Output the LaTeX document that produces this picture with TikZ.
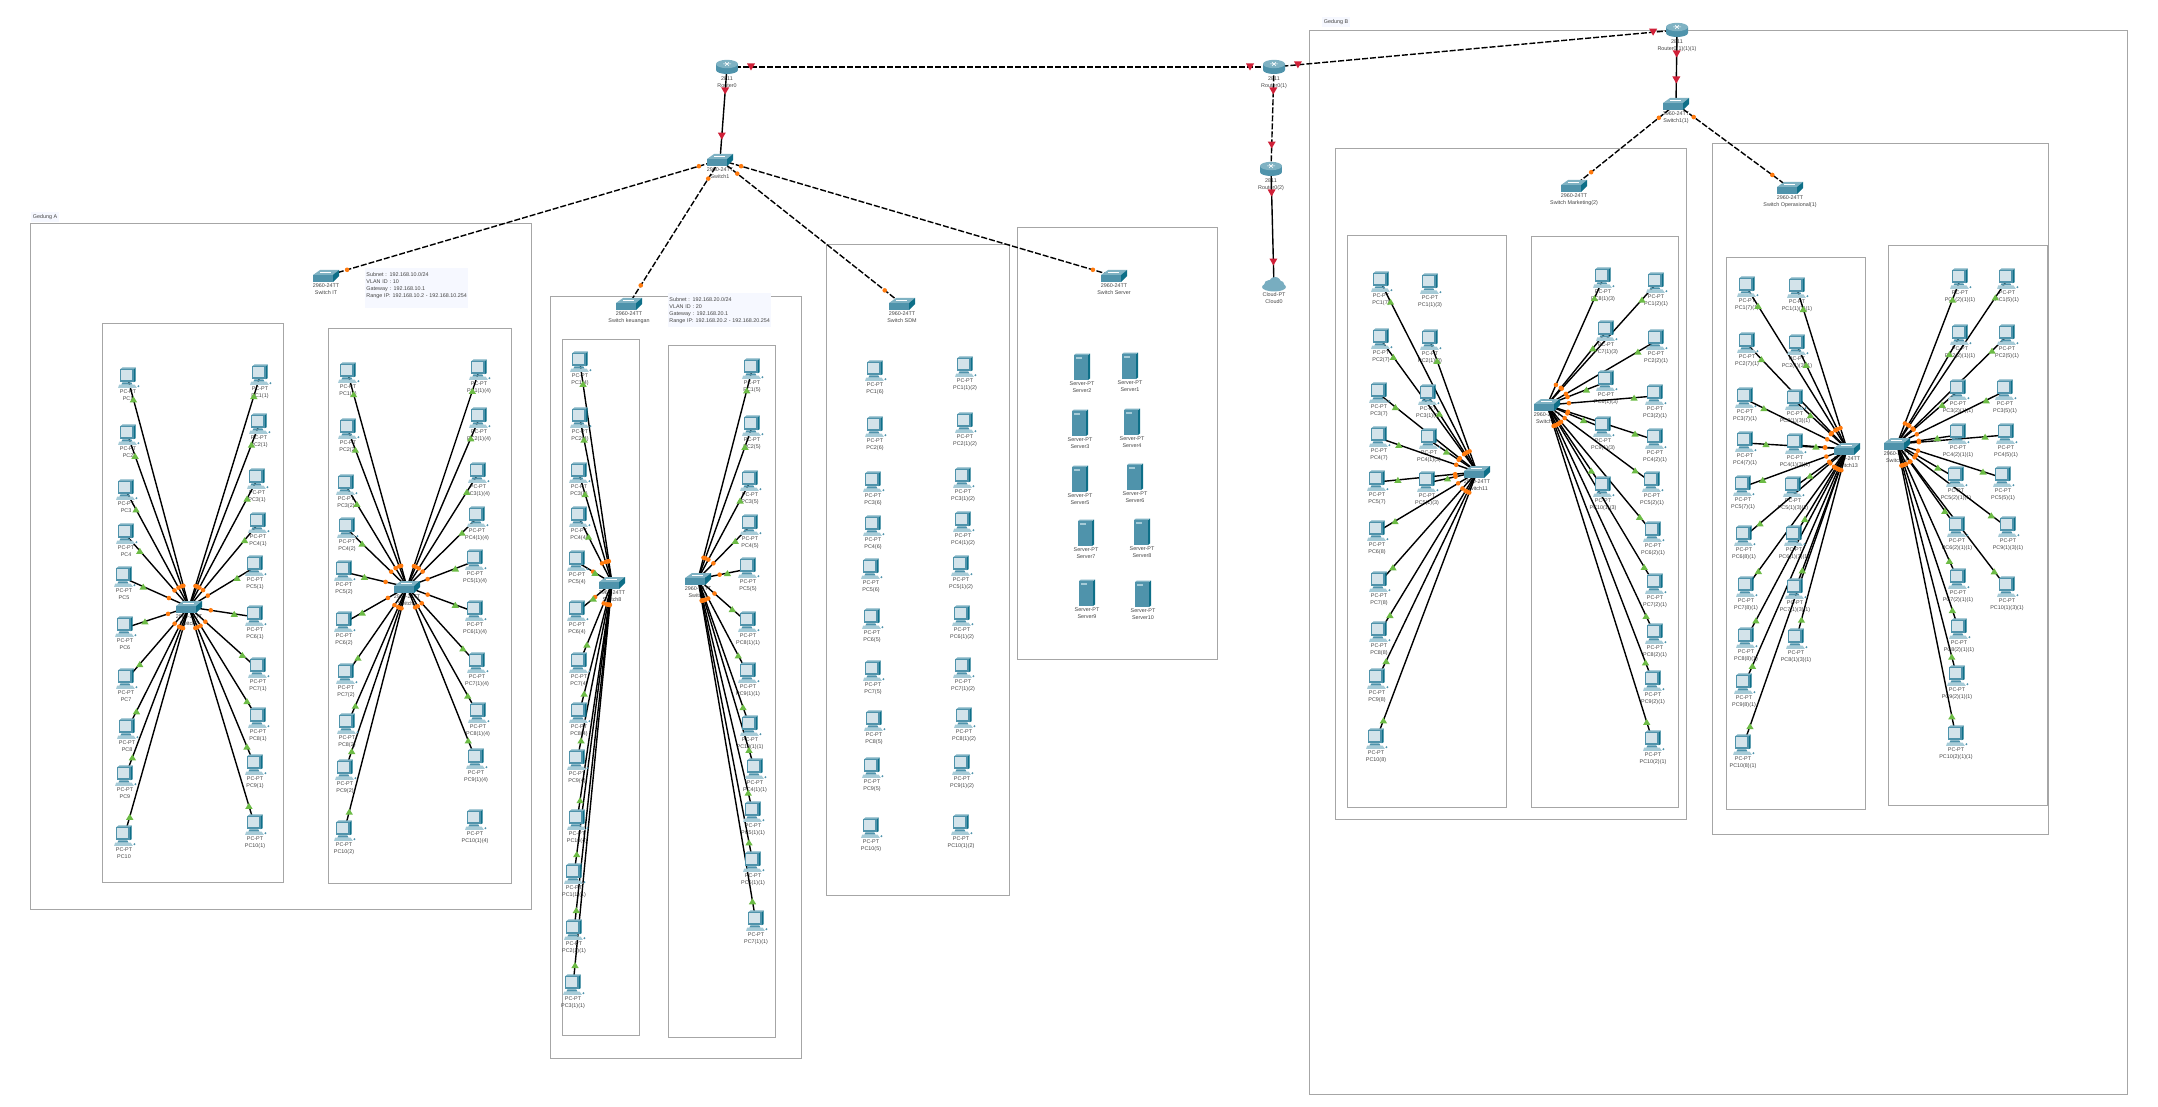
\documentclass[tikz,border=0pt]{standalone}
\usepackage{fontspec}
\setmainfont{Liberation Sans}
\usetikzlibrary{calc}
\usetikzlibrary{positioning}

\definecolor{tealmid}{HTML}{4F93AB}
\definecolor{tealdark}{HTML}{0E6F88}
\definecolor{teallight}{HTML}{7FB2C3}
\definecolor{tealpale}{HTML}{A6CBD7}
\definecolor{screenblue}{HTML}{D3E3EA}
\definecolor{framegrey}{HTML}{A6A6A6}
\definecolor{notefill}{HTML}{F6F8FF}
\definecolor{labelgrey}{HTML}{454545}
\definecolor{dotorange}{HTML}{FF7A0E}
\definecolor{markgreen}{HTML}{6CBB45}
\definecolor{markred}{HTML}{D02038}

\pgfdeclarelayer{frames}
\pgfdeclarelayer{labels}
\pgfdeclarelayer{wires}
\pgfsetlayers{frames,labels,wires,main}

\tikzset{
  devnode/.style={inner sep=0pt,minimum size=0pt},
  devlabel/.style={inner sep=0pt,align=center,text=labelgrey,font=\fontsize{2.7}{3.5}\selectfont},
  notebox/.style={anchor=north west,fill=notefill,inner xsep=0.5pt,inner ysep=2pt,align=left,text width=50.5pt,text=labelgrey,font=\fontsize{2.7}{3.5}\selectfont},
  titlebox/.style={fill=notefill,inner sep=1pt,text=labelgrey,font=\fontsize{2.7}{3.5}\selectfont},
  framebox/.style={draw=framegrey,line width=0.42pt},
  wire/.style={draw=black,line width=0.7pt},
  dashwire/.style={draw=black,line width=0.7pt,dash pattern=on 3pt off 1pt},
  pcicon/.pic={
    \fill[tealdark] (5,-9) -- (7,-10.5) -- (7,2) -- (5,3) -- cycle;
    \fill[teallight] (-7,-9) -- (-5,-10.5) -- (7,-10.5) -- (5,-9) -- cycle;
    \fill[tealmid] (-7,-9) rectangle (5,3);
    \fill[screenblue] (-6,-8) rectangle (4,1);
    \fill[tealmid] (-5,3) -- (3,3) -- (4,5) -- (-6,5) -- cycle;
    \fill[tealpale] (-8,5) -- (6,5) -- (8,8) -- (-9,8) -- cycle;
    \fill[tealmid] (9.5,6.5) circle (0.5pt);
  },
  switchicon/.pic={
    \fill[teallight] (-13,-1) -- (-6,-6) -- (13,-6) -- (7,-1) -- cycle;
    \fill[tealmid] (-13,-1) rectangle (7,6);
    \fill[tealdark] (7,-1) -- (13,-6) -- (13,0) -- (7,6) -- cycle;
    \draw[white,line width=0.2pt] (-6,-3.5) -- (5,-3.5);
  },
  routericon/.pic={
    \path[left color=tealmid,middle color=screenblue,right color=tealmid] (-11,-3) -- (-11,3) arc[start angle=180,end angle=0,x radius=11,y radius=4] -- (11,-3) -- cycle;
    \fill[teallight] (0,-3) ellipse[x radius=11,y radius=4.2];
    \draw[white,line width=0.25pt] (-4,-3) -- (4,-3) (-2,-5) -- (2,-1) (2,-5) -- (-2,-1);
  },
  cloudicon/.pic={
    \fill[teallight!85!tealmid] (0,1) ellipse[x radius=12,y radius=4.5];
    \fill[teallight!85!tealmid] (-5,-1) circle (2.5pt) (1,-3) circle (3pt) (6,-1) circle (2.2pt);
  },
  servericon/.pic={
    \fill[tealdark] (6,-12) -- (8,-13.5) -- (8,11.5) -- (6,13) -- cycle;
    \fill[teallight] (-8,-12) -- (-6,-13.5) -- (8,-13.5) -- (6,-12) -- cycle;
    \fill[tealmid] (-8,-12) rectangle (6,13);
    \fill[tealpale] (-6.5,-10) rectangle (-0.5,-8);
  },
}

\newcommand{\pcdev}[4]{%
  \node[devnode] (#1) at (#2,#3) {};
  \pic[scale=1.1] at (#1) {pcicon};
  \begin{pgfonlayer}{labels}\node[devlabel,below=5.2pt of #1.center] (#1lab) {PC-PT\\#4};\end{pgfonlayer}
}
\newcommand{\swdev}[4]{%
  \node[devnode] (#1) at (#2,#3) {};
  \pic at (#1) {switchicon};
  \begin{pgfonlayer}{labels}\node[devlabel,below=3.7pt of #1.center] (#1lab) {2960-24TT\\#4};\end{pgfonlayer}
}
\newcommand{\rtdev}[4]{%
  \node[devnode] (#1) at (#2,#3) {};
  \pic at (#1) {routericon};
  \begin{pgfonlayer}{labels}\node[devlabel,below=4.5pt of #1.center] (#1lab) {2811\\#4};\end{pgfonlayer}
}
\newcommand{\srvdev}[4]{%
  \node[devnode] (#1) at (#2,#3) {};
  \pic at (#1) {servericon};
  \node[devlabel,below=7.3pt of #1.center] (#1lab) {Server-PT\\#4};
}
\newcommand{\orangemark}[2]{\fill[dotorange] ($(#1)!11pt!(#2)$) circle (1.15pt);}
\newcommand{\greenmark}[2]{\fill[markgreen] ($(#1)!10.5pt!(#2)$) ++(-3.7,3) -- ++(7.4,0) -- ++(-3.7,-6) -- cycle;}
\newcommand{\redmark}[2]{\fill[markred] ($(#1)!12pt!(#2)$) ++(-4,-3.5) -- ++(8,0) -- ++(-4,7) -- cycle;}
\newcommand{\lan}[2]{%
  \begin{pgfonlayer}{wires}\draw[wire] (#1) -- (#2);\end{pgfonlayer}
  \orangemark{#1}{#2}\greenmark{#2}{#1}
}
\newcommand{\trunk}[2]{%
  \begin{pgfonlayer}{wires}\draw[dashwire] (#1) -- (#2);\end{pgfonlayer}
  \orangemark{#1}{#2}\orangemark{#2}{#1}
}
\newcommand{\uplink}[3]{%
  \begin{pgfonlayer}{wires}\draw[#3] (#1) -- (#2);\end{pgfonlayer}
  \redmark{#1}{#2}\redmark{#2}{#1}
}

\begin{document}
\begin{tikzpicture}[x=0.5pt,y=-0.5pt]
  \useasboundingbox (0,0) rectangle (2158,1107);

  % frames
  \begin{pgfonlayer}{frames}
    \draw[framebox] (30,223) rectangle (531,909);
    \draw[framebox] (102,323) rectangle (283,882);
    \draw[framebox] (328,328) rectangle (511,883);
    \draw[framebox] (550,296) rectangle (801,1058);
    \draw[framebox] (562,339) rectangle (639,1035);
    \draw[framebox] (668,345) rectangle (775,1037);
    \draw[framebox] (826,244) rectangle (1009,895);
    \draw[framebox] (1017,227) rectangle (1217,659);
    \draw[framebox] (1309,30) rectangle (2127,1094);
    \draw[framebox] (1335,148) rectangle (1686,819);
    \draw[framebox] (1347,235) rectangle (1506,807);
    \draw[framebox] (1531,236) rectangle (1678,807);
    \draw[framebox] (1712,143) rectangle (2048,834);
    \draw[framebox] (1726,257) rectangle (1865,809);
    \draw[framebox] (1888,245) rectangle (2047,805);
  \end{pgfonlayer}

  \node[titlebox] (gedunga) at (45,217) {Gedung A};
  \node[titlebox] (gedungb) at (1336,22) {Gedung B};
  \node[notebox] (noteit) at (365,268) {Subnet : 192.168.10.0/24\\VLAN ID : 10\\Gateway : 192.168.10.1\\Range IP: 192.168.10.2 - 192.168.10.254\\~};
  \node[notebox] (noteku) at (668,293) {Subnet : 192.168.20.0/24\\VLAN ID : 20\\Gateway : 192.168.20.1\\Range IP: 192.168.20.2 - 192.168.20.254};

  % core
  \rtdev{rtA}{727}{67}{Router0}
  \rtdev{rtB}{1274}{67}{Router0(1)}
  \rtdev{rtC}{1271}{169}{Router0(2)}
  \rtdev{rtD}{1677}{30}{Router0(1)(1)(1)}
  \node[devnode] (cloud) at (1274,286) {};
  \pic at (cloud) {cloudicon};
  \node[devlabel,below=3pt of cloud.center] (cloudlab) {Cloud-PT\\Cloud0};
  \swdev{swcore}{720}{160}{Switch1}
  \swdev{swcoreb}{1676}{104}{Switch1(1)}
  \swdev{swit}{326}{276}{Switch IT}
  \swdev{swku}{629}{304}{Switch keuangan}
  \swdev{swsdm}{902}{304}{Switch SDM}
  \swdev{swsrv}{1114}{276}{Switch Server}
  \swdev{swmk}{1574}{186}{Switch Marketing(2)}
  \swdev{swop}{1790}{188}{Switch Operasional(1)}
  \swdev{swa}{189}{607}{Switch2}
  \swdev{swb}{407}{587}{Switch3}
  \swdev{swc}{612}{583}{Switch8}
  \swdev{swd}{698}{579}{Switch9}
  \swdev{swe}{1477}{472}{Switch11}
  \swdev{swf}{1547}{405}{Switch12}
  \swdev{swg}{1847}{449}{Switch13}
  \swdev{swh}{1897}{444}{Switch14}

  \uplink{rtA}{rtB}{dashwire}
  \uplink{rtB}{rtD}{dashwire}
  \uplink{rtB}{rtC}{dashwire}
  \uplink{rtA}{swcore}{wire}
  \uplink{rtC}{cloud}{wire}
  \uplink{rtD}{swcoreb}{wire}
  \trunk{swcore}{swit}
  \trunk{swcore}{swku}
  \trunk{swcore}{swsdm}
  \trunk{swcore}{swsrv}
  \trunk{swcoreb}{swmk}
  \trunk{swcoreb}{swop}

  % Gedung A, IT left
  \pcdev{aa1}{128}{379}{PC1}
  \pcdev{aa2}{128}{436}{PC2}
  \pcdev{aa3}{126}{491}{PC3}
  \pcdev{aa4}{126}{535}{PC4}
  \pcdev{aa5}{124}{578}{PC5}
  \pcdev{aa6}{125}{628}{PC6}
  \pcdev{aa7}{126}{680}{PC7}
  \pcdev{aa8}{127}{730}{PC8}
  \pcdev{aa9}{125}{777}{PC9}
  \pcdev{aa10}{124}{837}{PC10}
  \pcdev{ab1}{260}{376}{PC1(1)}
  \pcdev{ab2}{259}{425}{PC2(1)}
  \pcdev{ab3}{257}{480}{PC3(1)}
  \pcdev{ab4}{258}{524}{PC4(1)}
  \pcdev{ab5}{255}{567}{PC5(1)}
  \pcdev{ab6}{255}{617}{PC6(1)}
  \pcdev{ab7}{258}{669}{PC7(1)}
  \pcdev{ab8}{258}{719}{PC8(1)}
  \pcdev{ab9}{255}{766}{PC9(1)}
  \pcdev{ab10}{255}{826}{PC10(1)}
  \lan{swa}{aa1}
  \lan{swa}{aa2}
  \lan{swa}{aa3}
  \lan{swa}{aa4}
  \lan{swa}{aa5}
  \lan{swa}{aa6}
  \lan{swa}{aa7}
  \lan{swa}{aa8}
  \lan{swa}{aa9}
  \lan{swa}{aa10}
  \lan{swa}{ab1}
  \lan{swa}{ab2}
  \lan{swa}{ab3}
  \lan{swa}{ab4}
  \lan{swa}{ab5}
  \lan{swa}{ab6}
  \lan{swa}{ab7}
  \lan{swa}{ab8}
  \lan{swa}{ab9}
  \lan{swa}{ab10}

  % Gedung A, IT right
  \pcdev{ba1}{348}{374}{PC1(2)}
  \pcdev{ba2}{348}{430}{PC2(2)}
  \pcdev{ba3}{346}{486}{PC3(2)}
  \pcdev{ba4}{347}{529}{PC4(2)}
  \pcdev{ba5}{344}{572}{PC5(2)}
  \pcdev{ba6}{344}{623}{PC6(2)}
  \pcdev{ba7}{346}{675}{PC7(2)}
  \pcdev{ba8}{347}{725}{PC8(2)}
  \pcdev{ba9}{345}{771}{PC9(2)}
  \pcdev{ba10}{344}{832}{PC10(2)}
  \pcdev{bb1}{479}{371}{PC1(1)(4)}
  \pcdev{bb2}{479}{419}{PC2(1)(4)}
  \pcdev{bb3}{478}{474}{PC3(1)(4)}
  \pcdev{bb4}{477}{518}{PC4(1)(4)}
  \pcdev{bb5}{475}{561}{PC5(1)(4)}
  \pcdev{bb6}{475}{612}{PC6(1)(4)}
  \pcdev{bb7}{477}{664}{PC7(1)(4)}
  \pcdev{bb8}{478}{714}{PC8(1)(4)}
  \pcdev{bb9}{476}{760}{PC9(1)(4)}
  \pcdev{bb10}{475}{821}{PC10(1)(4)}
  \lan{swb}{ba1}
  \lan{swb}{ba2}
  \lan{swb}{ba3}
  \lan{swb}{ba4}
  \lan{swb}{ba5}
  \lan{swb}{ba6}
  \lan{swb}{ba7}
  \lan{swb}{ba8}
  \lan{swb}{ba9}
  \lan{swb}{ba10}
  \lan{swb}{bb1}
  \lan{swb}{bb2}
  \lan{swb}{bb3}
  \lan{swb}{bb4}
  \lan{swb}{bb5}
  \lan{swb}{bb6}
  \lan{swb}{bb7}
  \lan{swb}{bb8}
  \lan{swb}{bb9}

  % keuangan
  \pcdev{ca1}{580}{363}{PC1(4)}
  \pcdev{ca2}{580}{419}{PC2(4)}
  \pcdev{ca3}{579}{474}{PC3(4)}
  \pcdev{ca4}{579}{518}{PC4(4)}
  \pcdev{ca5}{577}{562}{PC5(4)}
  \pcdev{ca6}{577}{612}{PC6(4)}
  \pcdev{ca7}{579}{664}{PC7(4)}
  \pcdev{ca8}{579}{714}{PC8(4)}
  \pcdev{ca9}{577}{761}{PC9(4)}
  \pcdev{ca10}{577}{821}{PC10(4)}
  \pcdev{ca11}{574}{875}{PC1(1)(1)}
  \pcdev{ca12}{574}{931}{PC2(1)(1)}
  \pcdev{ca13}{573}{986}{PC3(1)(1)}
  \lan{swc}{ca1}
  \lan{swc}{ca2}
  \lan{swc}{ca3}
  \lan{swc}{ca4}
  \lan{swc}{ca5}
  \lan{swc}{ca6}
  \lan{swc}{ca7}
  \lan{swc}{ca8}
  \lan{swc}{ca9}
  \lan{swc}{ca10}
  \lan{swc}{ca11}
  \lan{swc}{ca12}
  \lan{swc}{ca13}
  \pcdev{da1}{752}{370}{PC1(5)}
  \pcdev{da2}{752}{427}{PC2(5)}
  \pcdev{da3}{750}{482}{PC3(5)}
  \pcdev{da4}{750}{526}{PC4(5)}
  \pcdev{da5}{748}{569}{PC5(5)}
  \pcdev{da6}{748}{623}{PC8(1)(1)}
  \pcdev{da7}{748}{674}{PC9(1)(1)}
  \pcdev{da8}{750}{727}{PC10(1)(1)}
  \pcdev{da9}{755}{770}{PC4(1)(1)}
  \pcdev{da10}{753}{813}{PC5(1)(1)}
  \pcdev{da11}{753}{863}{PC6(1)(1)}
  \pcdev{da12}{756}{922}{PC7(1)(1)}
  \lan{swd}{da1}
  \lan{swd}{da2}
  \lan{swd}{da3}
  \lan{swd}{da4}
  \lan{swd}{da5}
  \lan{swd}{da6}
  \lan{swd}{da7}
  \lan{swd}{da8}
  \lan{swd}{da9}
  \lan{swd}{da10}
  \lan{swd}{da11}
  \lan{swd}{da12}

  % SDM
  \pcdev{ea1}{875}{372}{PC1(6)}
  \pcdev{ea2}{875}{428}{PC2(6)}
  \pcdev{ea3}{873}{483}{PC3(6)}
  \pcdev{ea4}{873}{527}{PC4(6)}
  \pcdev{ea5}{871}{570}{PC5(6)}
  \pcdev{ea6}{872}{620}{PC6(5)}
  \pcdev{ea7}{873}{672}{PC7(5)}
  \pcdev{ea8}{874}{722}{PC8(5)}
  \pcdev{ea9}{872}{769}{PC9(5)}
  \pcdev{ea10}{871}{829}{PC10(5)}
  \pcdev{eb1}{965}{368}{PC1(1)(2)}
  \pcdev{eb2}{965}{424}{PC2(1)(2)}
  \pcdev{eb3}{963}{479}{PC3(1)(2)}
  \pcdev{eb4}{963}{523}{PC4(1)(2)}
  \pcdev{eb5}{961}{567}{PC5(1)(2)}
  \pcdev{eb6}{962}{617}{PC6(1)(2)}
  \pcdev{eb7}{963}{669}{PC7(1)(2)}
  \pcdev{eb8}{964}{719}{PC8(1)(2)}
  \pcdev{eb9}{962}{766}{PC9(1)(2)}
  \pcdev{eb10}{961}{826}{PC10(1)(2)}

  % servers
  \srvdev{srv1}{1130}{366}{Server1}
  \srvdev{srv2}{1082}{367}{Server2}
  \srvdev{srv3}{1080}{423}{Server3}
  \srvdev{srv4}{1132}{422}{Server4}
  \srvdev{srv5}{1080}{479}{Server5}
  \srvdev{srv6}{1135}{477}{Server6}
  \srvdev{srv7}{1086}{533}{Server7}
  \srvdev{srv8}{1142}{532}{Server8}
  \srvdev{srv9}{1087}{593}{Server9}
  \srvdev{srv10}{1143}{594}{Server10}

  % marketing left
  \pcdev{fa1}{1381}{283}{PC1(7)}
  \pcdev{fa2}{1381}{340}{PC2(7)}
  \pcdev{fa3}{1379}{394}{PC3(7)}
  \pcdev{fa4}{1379}{438}{PC4(7)}
  \pcdev{fa5}{1377}{482}{PC5(7)}
  \pcdev{fa6}{1377}{532}{PC6(8)}
  \pcdev{fa7}{1379}{583}{PC7(8)}
  \pcdev{fa8}{1379}{633}{PC8(8)}
  \pcdev{fa9}{1377}{680}{PC9(8)}
  \pcdev{fa10}{1376}{740}{PC10(8)}
  \pcdev{fb1}{1430}{285}{PC1(1)(3)}
  \pcdev{fb2}{1430}{341}{PC2(1)(3)}
  \pcdev{fb3}{1428}{396}{PC3(1)(3)}
  \pcdev{fb4}{1429}{440}{PC4(1)(3)}
  \pcdev{fb5}{1427}{483}{PC5(1)(3)}
  \lan{swe}{fa1}
  \lan{swe}{fa2}
  \lan{swe}{fa3}
  \lan{swe}{fa4}
  \lan{swe}{fa5}
  \lan{swe}{fa6}
  \lan{swe}{fa7}
  \lan{swe}{fa8}
  \lan{swe}{fa9}
  \lan{swe}{fa10}
  \lan{swe}{fb2}
  \lan{swe}{fb3}
  \lan{swe}{fb4}
  \lan{swe}{fb5}

  % marketing right
  \pcdev{ga1}{1603}{279}{PC8(1)(3)}
  \pcdev{ga2}{1606}{332}{PC7(1)(3)}
  \pcdev{ga3}{1606}{382}{PC6(1)(3)}
  \pcdev{ga4}{1603}{428}{PC9(1)(3)}
  \pcdev{ga5}{1603}{488}{PC10(1)(3)}
  \pcdev{gb1}{1656}{284}{PC1(2)(1)}
  \pcdev{gb2}{1656}{341}{PC2(2)(1)}
  \pcdev{gb3}{1655}{396}{PC3(2)(1)}
  \pcdev{gb4}{1655}{440}{PC4(2)(1)}
  \pcdev{gb5}{1652}{483}{PC5(2)(1)}
  \pcdev{gb6}{1653}{533}{PC6(2)(1)}
  \pcdev{gb7}{1655}{585}{PC7(2)(1)}
  \pcdev{gb8}{1655}{635}{PC8(2)(1)}
  \pcdev{gb9}{1653}{682}{PC9(2)(1)}
  \pcdev{gb10}{1653}{742}{PC10(2)(1)}
  \lan{swf}{ga1}
  \lan{swf}{ga2}
  \lan{swf}{ga3}
  \lan{swf}{ga4}
  \lan{swf}{ga5}
  \lan{swf}{gb1}
  \lan{swf}{gb2}
  \lan{swf}{gb3}
  \lan{swf}{gb4}
  \lan{swf}{gb5}
  \lan{swf}{gb6}
  \lan{swf}{gb7}
  \lan{swf}{gb8}
  \lan{swf}{gb9}
  \lan{swf}{gb10}

  % operasional left
  \pcdev{ha1}{1747}{288}{PC1(7)(1)}
  \pcdev{ha2}{1747}{344}{PC2(7)(1)}
  \pcdev{ha3}{1745}{399}{PC3(7)(1)}
  \pcdev{ha4}{1745}{443}{PC4(7)(1)}
  \pcdev{ha5}{1743}{487}{PC5(7)(1)}
  \pcdev{ha6}{1744}{537}{PC6(8)(1)}
  \pcdev{ha7}{1746}{588}{PC7(8)(1)}
  \pcdev{ha8}{1746}{639}{PC8(8)(1)}
  \pcdev{ha9}{1744}{685}{PC9(8)(1)}
  \pcdev{ha10}{1743}{746}{PC10(8)(1)}
  \pcdev{hb1}{1797}{289}{PC1(1)(3)(1)}
  \pcdev{hb2}{1797}{346}{PC2(1)(3)(1)}
  \pcdev{hb3}{1795}{401}{PC3(1)(3)(1)}
  \pcdev{hb4}{1795}{445}{PC4(1)(3)(1)}
  \pcdev{hb5}{1793}{488}{PC5(1)(3)(1)}
  \pcdev{hb6}{1794}{537}{PC6(1)(3)(1)}
  \pcdev{hb7}{1795}{590}{PC7(1)(3)(1)}
  \pcdev{hb8}{1796}{640}{PC8(1)(3)(1)}
  \lan{swg}{ha1}
  \lan{swg}{ha2}
  \lan{swg}{ha3}
  \lan{swg}{ha4}
  \lan{swg}{ha5}
  \lan{swg}{ha6}
  \lan{swg}{ha7}
  \lan{swg}{ha8}
  \lan{swg}{ha9}
  \lan{swg}{ha10}
  \lan{swg}{hb1}
  \lan{swg}{hb2}
  \lan{swg}{hb3}
  \lan{swg}{hb4}
  \lan{swg}{hb5}
  \lan{swg}{hb6}
  \lan{swg}{hb7}
  \lan{swg}{hb8}

  % operasional right
  \pcdev{ja1}{1960}{280}{PC1(2)(1)(1)}
  \pcdev{ja2}{1960}{336}{PC2(2)(1)(1)}
  \pcdev{ja3}{1958}{391}{PC3(2)(1)(1)}
  \pcdev{ja4}{1958}{435}{PC4(2)(1)(1)}
  \pcdev{ja5}{1956}{478}{PC5(2)(1)(1)}
  \pcdev{ja6}{1957}{528}{PC6(2)(1)(1)}
  \pcdev{ja7}{1958}{580}{PC7(2)(1)(1)}
  \pcdev{ja8}{1959}{630}{PC8(2)(1)(1)}
  \pcdev{ja9}{1957}{677}{PC9(2)(1)(1)}
  \pcdev{ja10}{1956}{737}{PC10(2)(1)(1)}
  \pcdev{jb1}{2007}{280}{PC1(5)(1)}
  \pcdev{jb2}{2007}{336}{PC2(5)(1)}
  \pcdev{jb3}{2005}{391}{PC3(5)(1)}
  \pcdev{jb4}{2006}{435}{PC4(5)(1)}
  \pcdev{jb5}{2003}{478}{PC5(5)(1)}
  \pcdev{jb6}{2008}{528}{PC9(1)(3)(1)}
  \pcdev{jb7}{2007}{588}{PC10(1)(3)(1)}
  \lan{swh}{ja1}
  \lan{swh}{ja2}
  \lan{swh}{ja3}
  \lan{swh}{ja4}
  \lan{swh}{ja5}
  \lan{swh}{ja6}
  \lan{swh}{ja7}
  \lan{swh}{ja8}
  \lan{swh}{ja9}
  \lan{swh}{ja10}
  \lan{swh}{jb1}
  \lan{swh}{jb2}
  \lan{swh}{jb3}
  \lan{swh}{jb4}
  \lan{swh}{jb5}
  \lan{swh}{jb6}
  \lan{swh}{jb7}
\end{tikzpicture}
\end{document}
